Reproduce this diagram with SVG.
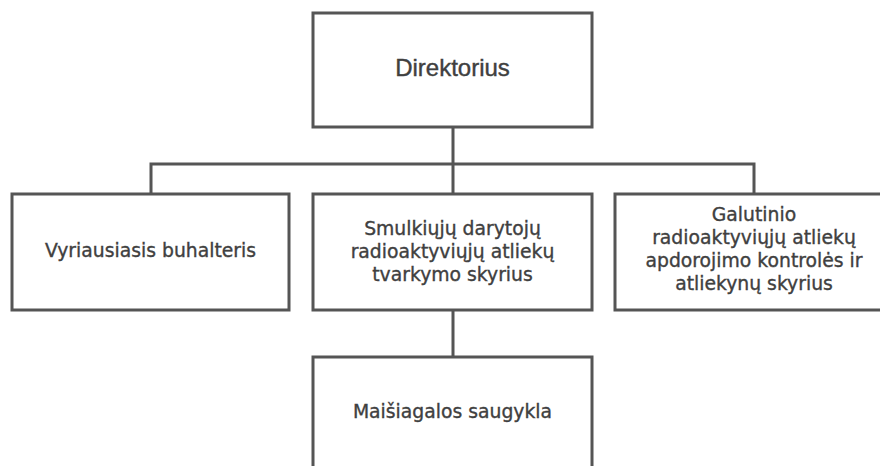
<svg xmlns="http://www.w3.org/2000/svg" width="880" height="466" viewBox="0 0 880 466">
<style>
.box{fill:#fff;stroke:#555;stroke-width:3}
.con{fill:none;stroke:#555;stroke-width:3}
.t{font-family:"DejaVu Sans",sans-serif;font-size:18.8px;fill:#404040;stroke:#404040;stroke-width:0.35;text-anchor:middle}
.h{font-family:"Liberation Sans",Arial,sans-serif;font-size:24px;fill:#404040;stroke:#404040;stroke-width:0.4;text-anchor:middle}
</style>
<rect width="880" height="466" fill="#fff"/>
<g id="connectors">
<path class="con" d="M453 127V164M151 194V164H754V194M453 164V194M453 310V357"/>
</g>
<g id="direktorius">
<rect class="box" x="313" y="13" width="279" height="114"/>
<text class="h" x="452.5" y="76">Direktorius</text>
</g>
<g id="buhalteris">
<rect class="box" x="12" y="194" width="277" height="116"/>
<text class="t" x="150.5" y="257">Vyriausiasis buhalteris</text>
</g>
<g id="smulkiuju">
<rect class="box" x="313" y="194" width="279" height="116"/>
<text class="t" x="452.5" y="235">Smulkiųjų darytojų</text>
<text class="t" x="452.5" y="258">radioaktyviųjų atliekų</text>
<text class="t" x="452.5" y="281">tvarkymo skyrius</text>
</g>
<g id="galutinio">
<rect class="box" x="615" y="194" width="279" height="116"/>
<text class="t" x="754" y="221">Galutinio</text>
<text class="t" x="754" y="244">radioaktyviųjų atliekų</text>
<text class="t" x="754" y="267">apdorojimo kontrolės ir</text>
<text class="t" x="754" y="290">atliekynų skyrius</text>
</g>
<g id="maisiagala">
<rect class="box" x="313" y="357" width="279" height="116"/>
<text class="t" x="452.5" y="418">Maišiagalos saugykla</text>
</g>
</svg>
